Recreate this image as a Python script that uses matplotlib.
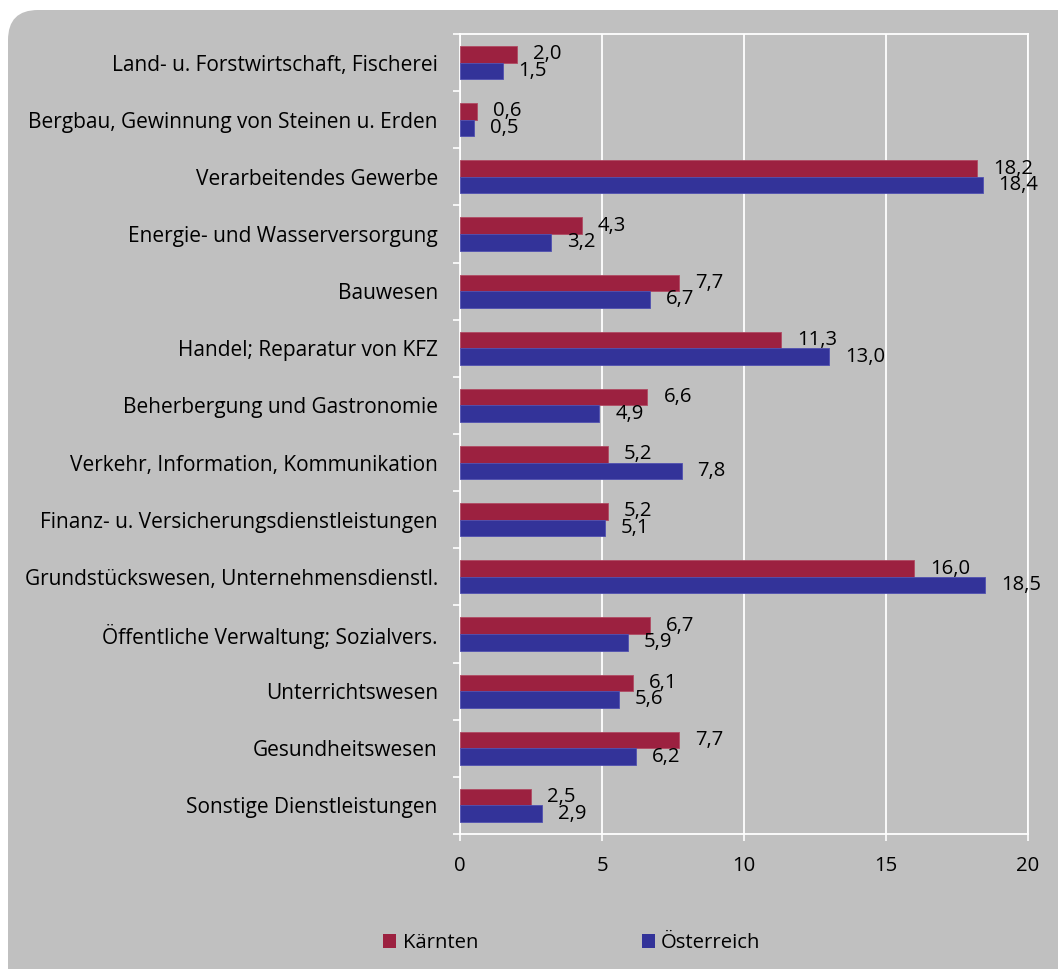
import matplotlib
matplotlib.use("Agg")
import matplotlib.pyplot as plt
from matplotlib.patches import FancyBboxPatch, Patch
import numpy as np

categories = [
    "Land- u. Forstwirtschaft, Fischerei",
    "Bergbau, Gewinnung von Steinen u. Erden",
    "Verarbeitendes Gewerbe",
    "Energie- und Wasserversorgung",
    "Bauwesen",
    "Handel; Reparatur von KFZ",
    "Beherbergung und Gastronomie",
    "Verkehr, Information, Kommunikation",
    "Finanz- u. Versicherungsdienstleistungen",
    "Grundstückswesen, Unternehmensdienstl.",
    "Öffentliche Verwaltung; Sozialvers.",
    "Unterrichtswesen",
    "Gesundheitswesen",
    "Sonstige Dienstleistungen",
]
kaernten = [2.0, 0.6, 18.2, 4.3, 7.7, 11.3, 6.6, 5.2, 5.2, 16.0, 6.7, 6.1, 7.7, 2.5]
oesterreich = [1.5, 0.5, 18.4, 3.2, 6.7, 13.0, 4.9, 7.8, 5.1, 18.5, 5.9, 5.6, 6.2, 2.9]
series_names = ["Kärnten", "Österreich"]
x_ticks = [0, 5, 10, 15, 20]

RED = "#9C2140"
BLUE = "#333399"
BG = "#C0C0C0"
FONT = "Open Sans"
FS = 14.6
FS_CAT = 15.0

plt.rcParams['font.family'] = [FONT, 'DejaVu Sans']

W, H = 1058, 969
fig = plt.figure(figsize=(W / 100, H / 100), dpi=100)
fig.patch.set_facecolor("white")

# rounded grey background (display/pixel coordinates, origin bottom-left)
bg = FancyBboxPatch((8, -60), W + 60, H - 10 + 60,
                    boxstyle="round,pad=0,rounding_size=30",
                    transform=None, facecolor=BG, edgecolor="none", zorder=-10)
fig.patches.append(bg)

left, right, top, bottom = 460, 1028, 34, 834
ax = fig.add_axes([left / W, 1 - bottom / H, (right - left) / W, (bottom - top) / H])
ax.set_facecolor(BG)
ax.patch.set_alpha(0)

y = np.arange(len(categories))
bw = 0.29
b1 = ax.barh(y - bw / 2, kaernten, height=bw, color=RED, edgecolor="#B04A63",
             linewidth=0.6, label=series_names[0], zorder=3)
b2 = ax.barh(y + bw / 2, oesterreich, height=bw, color=BLUE, edgecolor="#5050B0",
             linewidth=0.6, label=series_names[1], zorder=3)

fmt = lambda v: f"{v:.1f}".replace(".", ",")
ax.bar_label(b1, labels=[fmt(v) for v in kaernten], padding=11.5, fontsize=FS,
             color="black", family=FONT)
ax.bar_label(b2, labels=[fmt(v) for v in oesterreich], padding=11.5, fontsize=FS,
             color="black", family=FONT)

ax.set_xlim(0, 20)
ax.set_ylim(len(categories) - 0.5, -0.5)
ax.set_xticks(x_ticks)
ax.set_xticklabels([str(t) for t in x_ticks], fontsize=FS)
ax.set_yticks(y)
ax.set_yticklabels(categories, fontsize=FS_CAT)
ax.set_yticks(np.arange(len(categories) + 1) - 0.5, minor=True)

ax.tick_params(axis="y", which="major", length=0, pad=16)
ax.tick_params(axis="y", which="minor", length=5, width=1.2, color="white")
ax.tick_params(axis="x", which="major", length=5, width=1.2, color="white", pad=11)

ax.grid(axis="x", color="white", linewidth=1.3, zorder=0)
ax.set_axisbelow(True)
for s in ax.spines.values():
    s.set_color("white")
    s.set_linewidth(1.3)

fig.legend(handles=[Patch(facecolor=RED, label=series_names[0]),
                    Patch(facecolor=BLUE, label=series_names[1])],
           loc="center", bbox_to_anchor=(572 / W, 1 - 943 / H), ncol=2,
           frameon=False, fontsize=FS, handlelength=0.64, handleheight=0.64,
           handletextpad=0.3, columnspacing=8.1)

fig.savefig("out.png", dpi=100, facecolor=fig.get_facecolor())
